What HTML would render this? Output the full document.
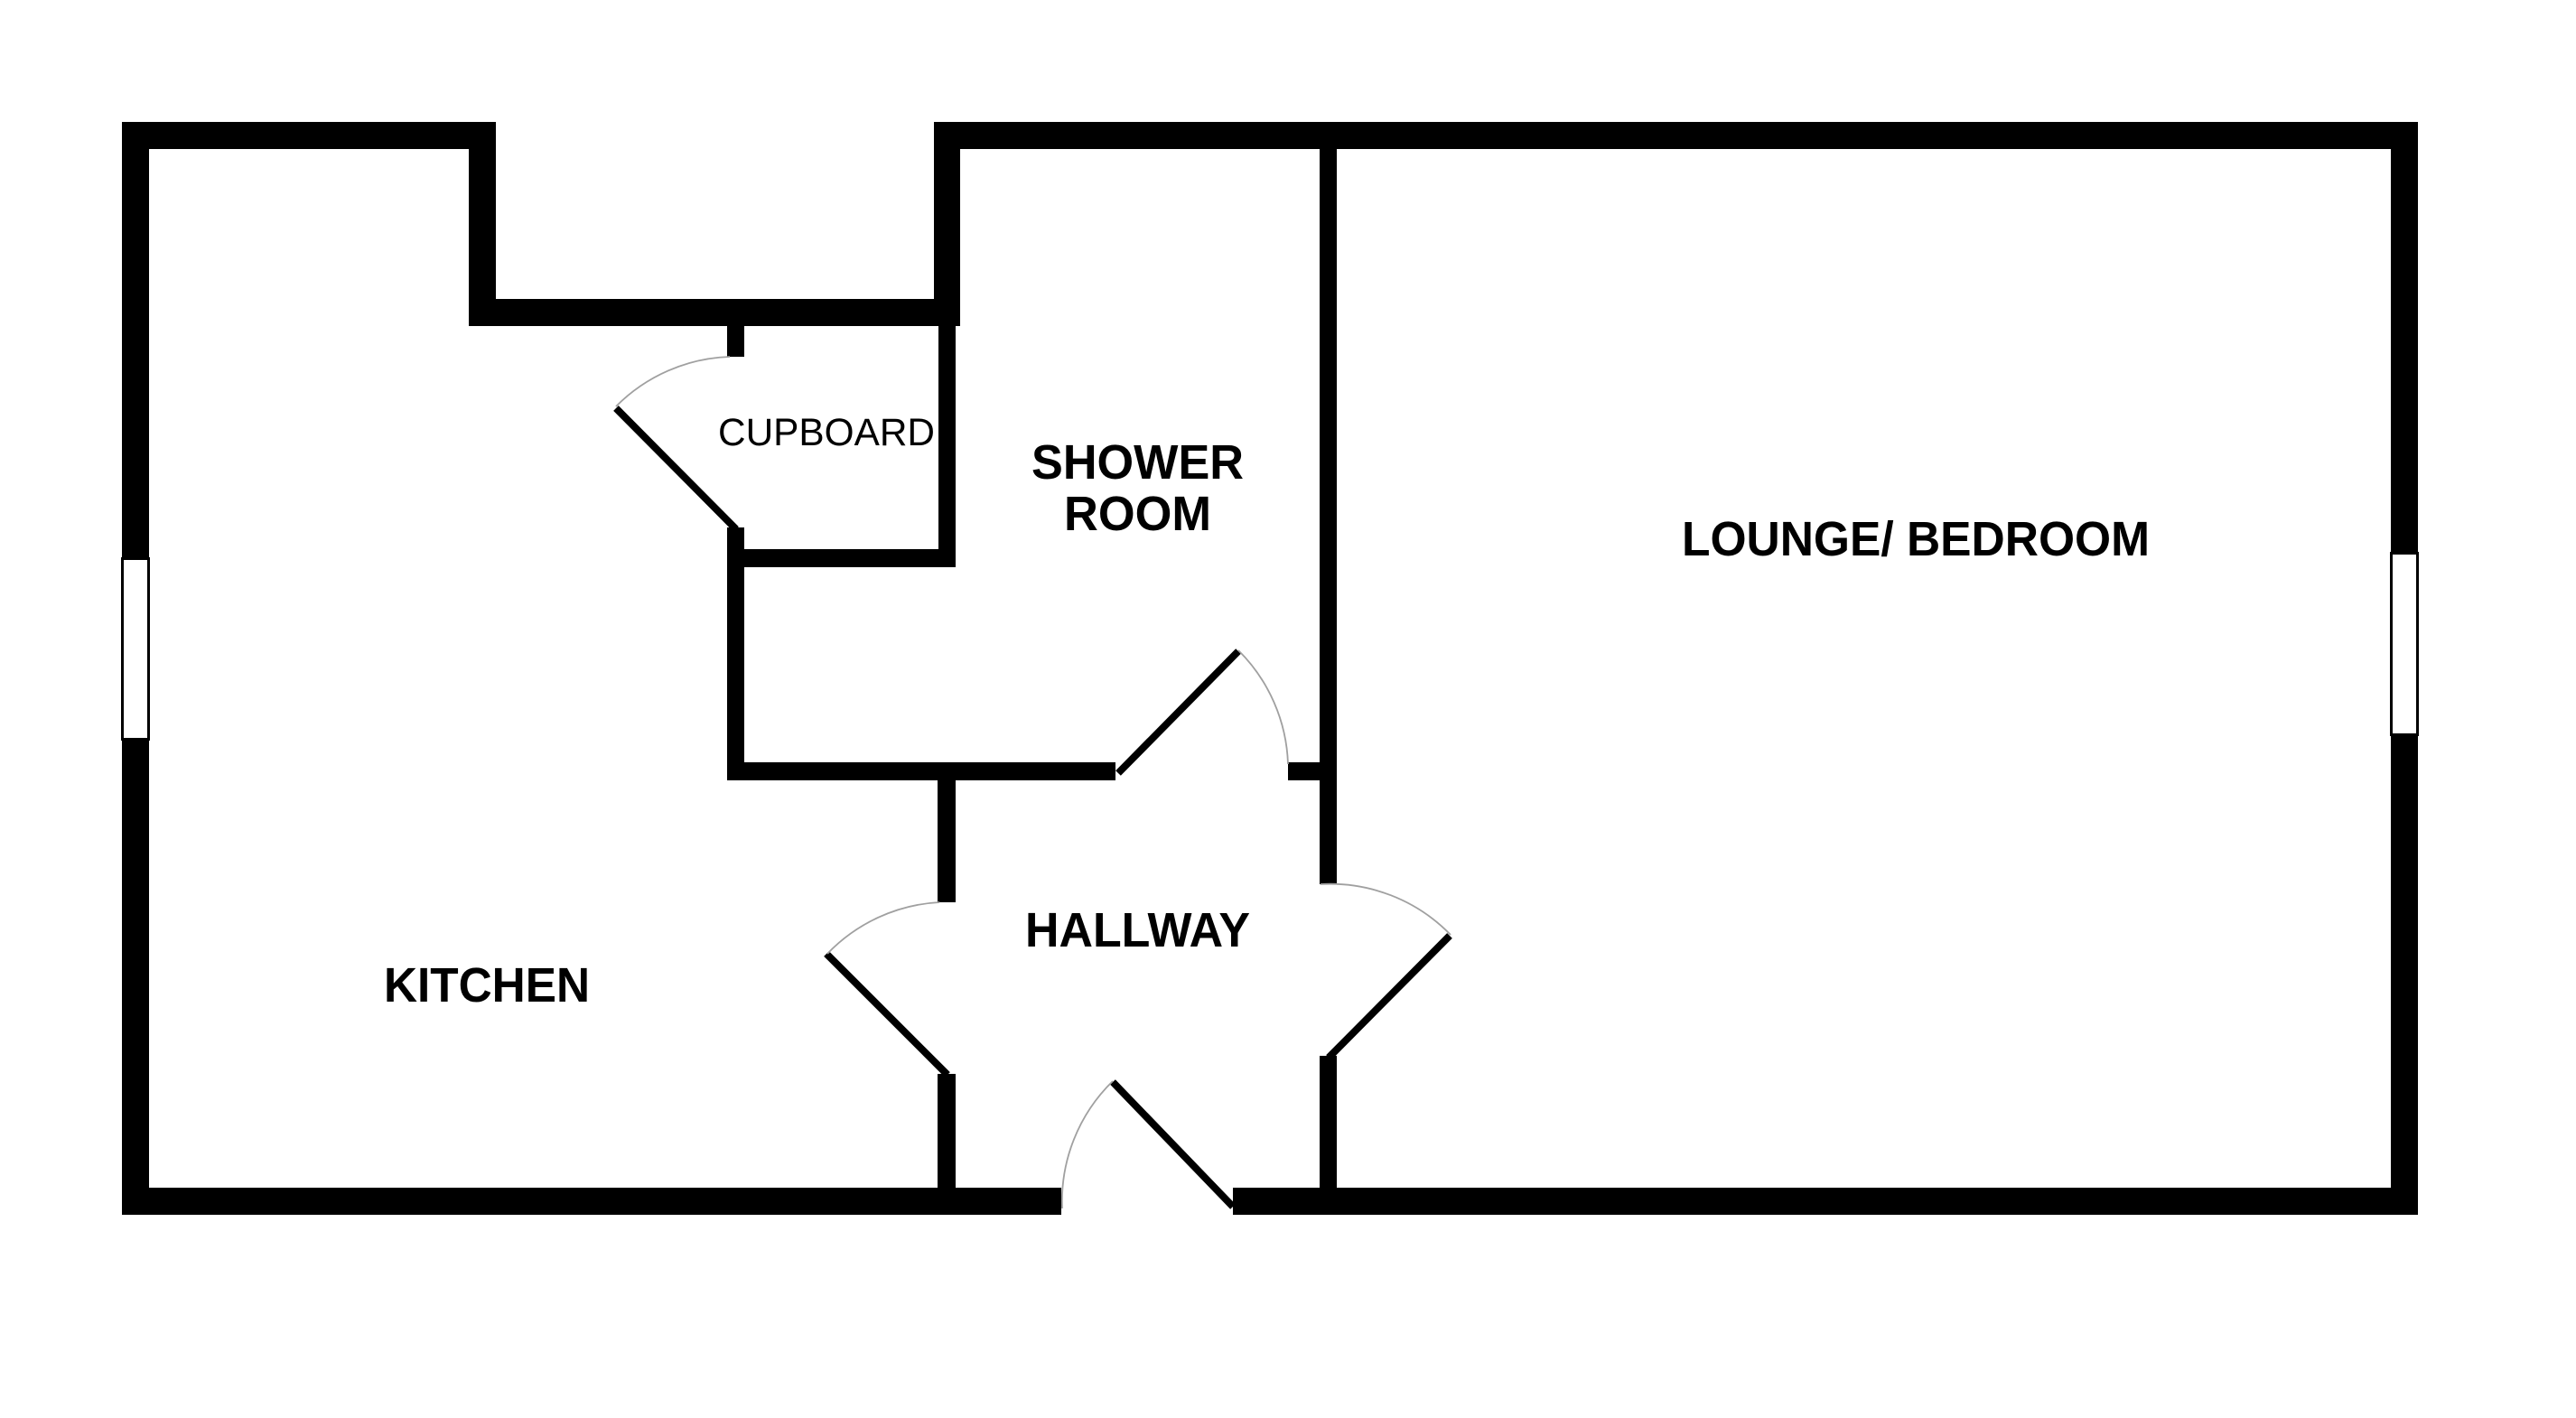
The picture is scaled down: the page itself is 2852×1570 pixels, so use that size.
<!DOCTYPE html>
<html lang="en">
<head>
<meta charset="utf-8">
<title>Floor plan</title>
<style>
html,body{margin:0;padding:0;background:#fff;width:2852px;height:1570px;overflow:hidden}
svg{display:block}
text{font-family:"Liberation Sans",Arial,sans-serif;fill:#000}
.b{font-weight:bold;font-size:54px}
</style>
</head>
<body>
<svg width="2852" height="1570" viewBox="0 0 2852 1570" xmlns="http://www.w3.org/2000/svg">
<rect width="2852" height="1570" fill="#fff"/>
<g fill="#000">
<!-- outer walls -->
<rect x="135" y="135" width="30" height="1210"/>
<rect x="135" y="135" width="414" height="30"/>
<rect x="519" y="135" width="30" height="226"/>
<rect x="519" y="331" width="544" height="30"/>
<rect x="1034" y="135" width="29" height="226"/>
<rect x="1034" y="135" width="1643" height="30"/>
<rect x="2647" y="135" width="30" height="1210"/>
<rect x="135" y="1315" width="1040" height="30"/>
<rect x="1365" y="1315" width="1312" height="30"/>
<!-- cupboard -->
<rect x="805" y="361" width="19" height="34"/>
<rect x="1039" y="361" width="19" height="267"/>
<rect x="805" y="608" width="253" height="20"/>
<rect x="805" y="584" width="19" height="280"/>
<!-- shower / hall walls -->
<rect x="805" y="844" width="430" height="20"/>
<rect x="1426" y="844" width="40" height="20"/>
<rect x="1461" y="135" width="19" height="844"/>
<rect x="1461" y="1169" width="19" height="176"/>
<rect x="1038" y="864" width="20" height="135"/>
<rect x="1038" y="1189" width="20" height="156"/>
</g>
<!-- windows -->
<rect x="135.500" y="618.500" width="29" height="200" fill="#fff" stroke="#000" stroke-width="3"/>
<rect x="2647.500" y="612.500" width="29" height="201" fill="#fff" stroke="#000" stroke-width="3"/>
<!-- door leaves -->
<g stroke="#000" stroke-width="8" fill="none">
<line x1="815" y1="586" x2="682" y2="452"/>
<line x1="1238" y1="856" x2="1371" y2="721"/>
<line x1="1049" y1="1190" x2="915" y2="1056"/>
<line x1="1471" y1="1171" x2="1605" y2="1036"/>
<line x1="1365" y1="1336" x2="1232" y2="1198"/>
</g>
<!-- door arcs -->
<g stroke="#a0a0a0" stroke-width="1.800" fill="none">
<path d="M682 450 A186 186 0 0 1 808 395"/>
<path d="M1371 720 A186 186 0 0 1 1426 846"/>
<path d="M916 1056 A186 186 0 0 1 1040 999"/>
<path d="M1462 979 A186 186 0 0 1 1606 1035"/>
<path d="M1232 1197 A186 186 0 0 0 1176 1338"/>
</g>
<!-- labels -->
<text x="795" y="493" font-size="43" textLength="240" lengthAdjust="spacingAndGlyphs">CUPBOARD</text>
<text class="b" x="425" y="1109" textLength="228" lengthAdjust="spacingAndGlyphs">KITCHEN</text>
<text class="b" x="1142" y="530" textLength="235" lengthAdjust="spacingAndGlyphs">SHOWER</text>
<text class="b" x="1178" y="587" textLength="163" lengthAdjust="spacingAndGlyphs">ROOM</text>
<text class="b" x="1135" y="1048" textLength="249" lengthAdjust="spacingAndGlyphs">HALLWAY</text>
<text class="b" x="1862" y="615" textLength="518" lengthAdjust="spacingAndGlyphs">LOUNGE/ BEDROOM</text>
</svg>
</body>
</html>
